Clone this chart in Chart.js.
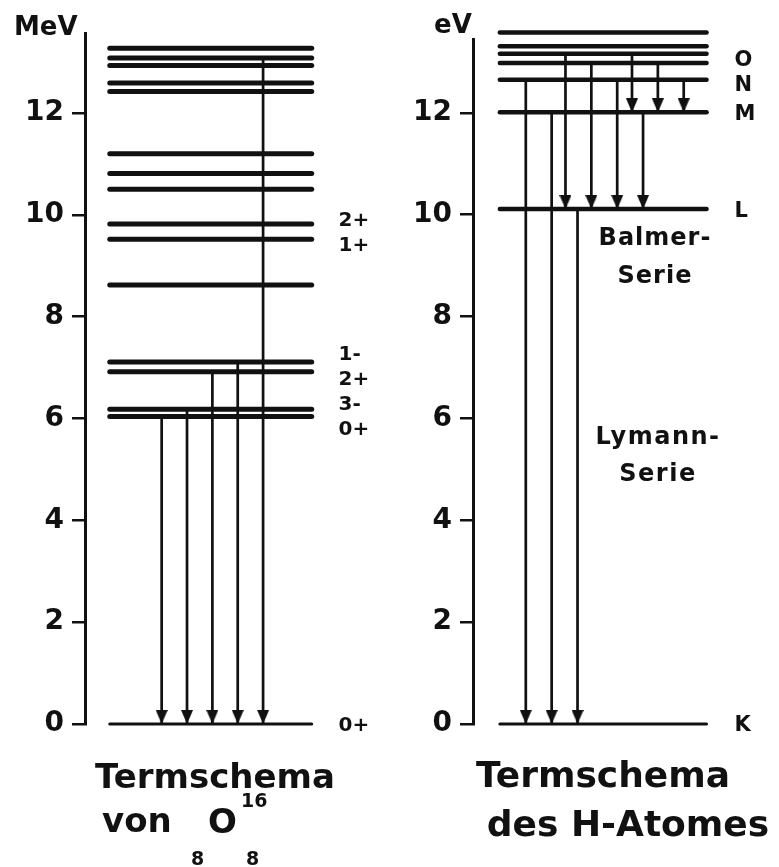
<!DOCTYPE html>
<html lang="de">
<head>
<meta charset="utf-8">
<title>Termschema</title>
<script src="https://cdn.jsdelivr.net/npm/chart.js@4.4.1/dist/chart.umd.min.js"></script>
<style>
  body { margin: 0; background: #fff; }
  #page { position: relative; width: 779px; height: 867px; overflow: hidden; font-family: "DejaVu Sans", sans-serif; font-weight: bold; color: #111; }
  canvas { position: absolute; top: 0; }
  #oxygenChart { left: 0; }
  #hydrogenChart { left: 390px; }
  .txt { position: absolute; white-space: nowrap; line-height: 1; }
  .center { transform: translateX(-50%); text-align: center; }
</style>
</head>
<body>
<div id="page">
  <canvas id="oxygenChart" width="390" height="760"></canvas>
  <canvas id="hydrogenChart" width="388" height="760"></canvas>

  <div class="txt" style="left:14px; top:13px; font-size:26px;">MeV</div>
  <div class="txt" style="left:434px; top:11px; font-size:26px;">eV</div>

  <div class="txt center" style="left:655px; top:218px; font-size:24px; line-height:38px; letter-spacing:1px;">Balmer-<br>Serie</div>
  <div class="txt center" style="left:658px; top:418px; font-size:24px; line-height:37px; letter-spacing:1.5px;">Lymann-<br>Serie</div>

  <!-- Unterschriften -->
  <div class="txt center" style="left:215px; top:759px; font-size:34px;">Termschema</div>
  <div class="txt" style="left:102px; top:803px; font-size:34px;">von</div>
  <div class="txt" style="left:191px; top:849px; font-size:19px;">8</div>
  <div class="txt" style="left:208px; top:804px; font-size:34px;">O</div>
  <div class="txt" style="left:241px; top:791px; font-size:19px;">16</div>
  <div class="txt" style="left:246px; top:849px; font-size:19px;">8</div>

  <div class="txt center" style="left:603px; top:757px; font-size:36px;">Termschema</div>
  <div class="txt center" style="left:628px; top:806px; font-size:36px;">des H-Atomes</div>
</div>

<script>
// O-16: Anregungsenergien in MeV
const oxygenLevels = [13.27, 13.08, 12.93, 12.59, 12.42, 11.20, 10.81, 10.50, 9.82, 9.52, 8.62, 7.11, 6.92, 6.18, 6.04, 0];
const oxygenLabelEnergies = [9.82, 9.52, 7.11, 6.92, 6.18, 6.04, 0];
const oxygenLabels = ['2+', '1+', '1-', '2+', '3-', '0+', '0+'];
const oxygenFrom = [6.04, 6.18, 6.92, 7.11, 13.08];
const oxygenTo = [0, 0, 0, 0, 0];

// H-Atom: Energien in eV
const hydrogenLevels = [13.58, 13.31, 13.16, 12.98, 12.65, 12.01, 10.11, 0];
const hydrogenLabelEnergies = [12.98, 12.65, 12.01, 10.11, 0];
const hydrogenLabels = ['O', 'N', 'M', 'L', 'K'];
const lymanFrom = [12.65, 12.01, 10.11];
const lymanTo = [0, 0, 0];
const balmerFrom = [13.16, 12.98, 12.65, 12.01];
const balmerTo = [10.11, 10.11, 10.11, 10.11];
const paschenFrom = [13.16, 12.98, 12.65];
const paschenTo = [12.01, 12.01, 12.01];

const yTicks = [0, 2, 4, 6, 8, 10, 12];

const ink = '#111';

// arrow head as point image, tip sits at the centre of the image
function makeArrowHead(w, h) {
  const c = document.createElement('canvas');
  c.width = w;
  c.height = h * 2;
  const g = c.getContext('2d');
  g.fillStyle = ink;
  g.beginPath();
  g.moveTo(0, 0);
  g.lineTo(w, 0);
  g.lineTo(w / 2, h);
  g.closePath();
  g.fill();
  return c;
}
const arrowHead = makeArrowHead(12, 14);

function levelSets(levels, span, width) {
  return levels.map(e => ({
    data: [{ x: span[0], y: e }, { x: span[1], y: e }],
    showLine: true,
    borderColor: ink,
    borderWidth: e === 0 ? 3 : width,
    borderCapStyle: 'round',
    pointRadius: 0,
    clip: false
  }));
}

function arrowSets(from, to, x0, step) {
  return from.map((e, i) => ({
    data: [{ x: x0 + i * step, y: e }, { x: x0 + i * step, y: to[i] }],
    showLine: true,
    borderColor: ink,
    borderWidth: 2.7,
    pointStyle: arrowHead,
    pointRadius: [0, 1],
    clip: false
  }));
}

// pushes labels apart so they keep a minimum distance
function spreadLabels(ys, gap) {
  let groups = ys.map(y => ({ ys: [y], center: y }));
  let merged = true;
  while (merged) {
    merged = false;
    for (let i = 0; i < groups.length - 1; i++) {
      const a = groups[i], b = groups[i + 1];
      const aEnd = a.center + (a.ys.length - 1) * gap / 2;
      const bStart = b.center - (b.ys.length - 1) * gap / 2;
      if (bStart - aEnd < gap) {
        const all = a.ys.concat(b.ys);
        groups.splice(i, 2, { ys: all, center: all.reduce((s, v) => s + v, 0) / all.length });
        merged = true;
        break;
      }
    }
  }
  const out = [];
  groups.forEach(g => g.ys.forEach((_, k) => out.push(g.center + (k - (g.ys.length - 1) / 2) * gap)));
  return out;
}

const levelLabelPlugin = {
  id: 'levelLabels',
  afterDatasetsDraw(chart, args, opts) {
    const { ctx, scales: { x, y } } = chart;
    const ys = spreadLabels(opts.energies.map(e => y.getPixelForValue(e)), opts.gap);
    ctx.save();
    ctx.font = opts.font;
    ctx.fillStyle = ink;
    ctx.textBaseline = 'middle';
    ctx.textAlign = 'left';
    opts.texts.forEach((t, i) => ctx.fillText(t, x.getPixelForValue(opts.x), ys[i] + opts.shift));
    ctx.restore();
  }
};

function makeChart(el, datasets, cfg) {
  return new Chart(el, {
    type: 'scatter',
    data: { datasets: datasets },
    plugins: [levelLabelPlugin],
    options: {
      responsive: false,
      animation: false,
      events: [],
      layout: { padding: { top: cfg.top, bottom: 36, left: 0, right: 5 } },
      plugins: {
        legend: { display: false },
        tooltip: { enabled: false },
        levelLabels: cfg.labels
      },
      scales: {
        x: { type: 'linear', min: 0, max: 100, display: false },
        y: {
          type: 'linear',
          min: 0,
          max: cfg.max,
          afterBuildTicks: s => { s.ticks = yTicks.map(v => ({ value: v })); },
          afterFit: s => { s.width = cfg.axisWidth; },
          border: { display: true, width: 3, color: ink },
          grid: { display: true, drawOnChartArea: false, drawTicks: true, tickLength: 13, lineWidth: 2.5, color: ink },
          ticks: { padding: 8, color: ink, font: { family: 'DejaVu Sans', size: 28, weight: 'bold' } }
        }
      }
    }
  });
}

makeChart(document.getElementById('oxygenChart'),
  levelSets(oxygenLevels, [8.3, 76], 5)
    .concat(arrowSets(oxygenFrom, oxygenTo, 25.7, 8.5)),
  {
    top: 33, max: 13.57, axisWidth: 85,
    labels: { energies: oxygenLabelEnergies, texts: oxygenLabels, x: 85, gap: 25, shift: 2, font: 'bold 20px "DejaVu Sans"' }
  });

makeChart(document.getElementById('hydrogenChart'),
  levelSets(hydrogenLevels, [9, 78.3], 4.5)
    .concat(arrowSets(lymanFrom, lymanTo, 17.7, 8.67))
    .concat(arrowSets(balmerFrom, balmerTo, 31, 8.67))
    .concat(arrowSets(paschenFrom, paschenTo, 53.3, 8.67)),
  {
    top: 39, max: 13.45, axisWidth: 83,
    labels: { energies: hydrogenLabelEnergies, texts: hydrogenLabels, x: 87.7, gap: 25, shift: 2, font: 'bold 21px "DejaVu Sans"' }
  });
</script>
</body>
</html>
